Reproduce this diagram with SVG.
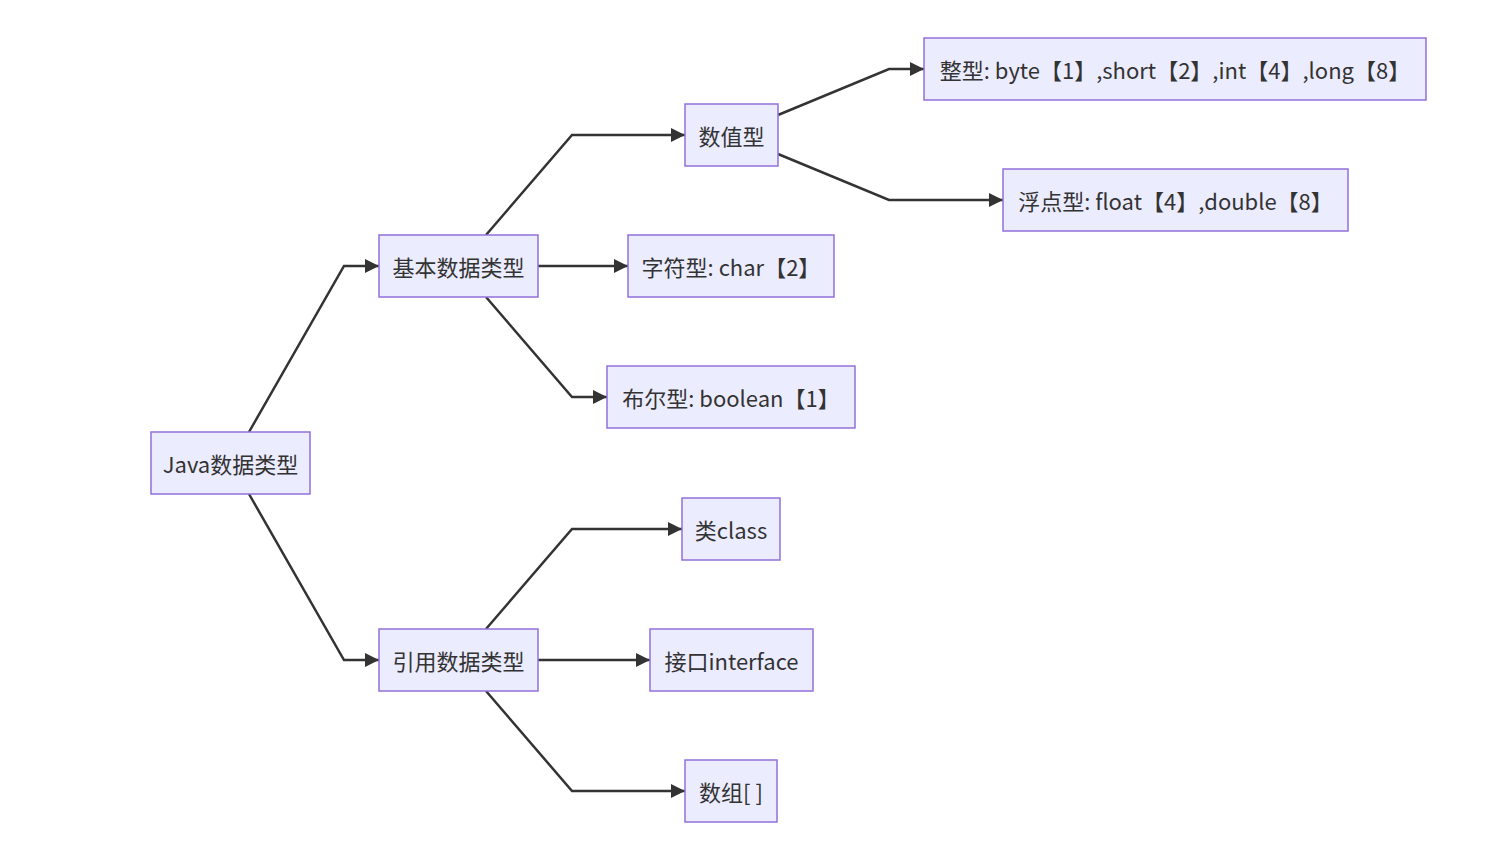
<svg xmlns="http://www.w3.org/2000/svg" width="1511" height="868" viewBox="0 0 1511 868">
<style>
.node rect{fill:#ECECFF;stroke:#9370DB;stroke-width:1.5}
.node text{font-family:"Noto Sans CJK SC","Noto Sans",sans-serif;font-size:22px;fill:#333;text-anchor:middle;dominant-baseline:central}
.edge{fill:none;stroke:#333;stroke-width:2.5;marker-end:url(#arrow)}
</style>
<defs>
<marker id="arrow" viewBox="0 0 10 10" refX="10" refY="5" markerWidth="14" markerHeight="14" markerUnits="userSpaceOnUse" orient="auto">
<path d="M0 0 L10 5 L0 10 z" fill="#333"/>
</marker>
</defs>
<rect width="1511" height="868" fill="#fff"/>
<g id="edges">
<polyline class="edge" points="249,432 344,266 379,266"/>
<polyline class="edge" points="249,494 344,660 379,660"/>
<polyline class="edge" points="486,235 572,135 685,135"/>
<polyline class="edge" points="538,266 628,266"/>
<polyline class="edge" points="486,297 572,397 607,397"/>
<polyline class="edge" points="778,115 889,69 924,69"/>
<polyline class="edge" points="778,154 889,200 1003,200"/>
<polyline class="edge" points="486,629 572,529 682,529"/>
<polyline class="edge" points="538,660 650,660"/>
<polyline class="edge" points="486,691 572,791 685,791"/>
</g>
<g id="java" class="node"><rect x="151" y="432" width="159" height="62"/><text x="230.5" y="463">Java数据类型</text></g>
<g id="basic" class="node"><rect x="379" y="235" width="159" height="62"/><text x="458.5" y="266">基本数据类型</text></g>
<g id="ref" class="node"><rect x="379" y="629" width="159" height="62"/><text x="458.5" y="660">引用数据类型</text></g>
<g id="numeric" class="node"><rect x="685" y="104" width="93" height="62"/><text x="731.5" y="135">数值型</text></g>
<g id="char" class="node"><rect x="628" y="235" width="206" height="62"/><text x="731" y="266">字符型: char【2】</text></g>
<g id="bool" class="node"><rect x="607" y="366" width="248" height="62"/><text x="731" y="397">布尔型: boolean【1】</text></g>
<g id="class" class="node"><rect x="682" y="498" width="98" height="62"/><text x="731" y="529">类class</text></g>
<g id="iface" class="node"><rect x="650" y="629" width="163" height="62"/><text x="731.5" y="660">接口interface</text></g>
<g id="array" class="node"><rect x="685" y="760" width="92" height="62"/><text x="731" y="791">数组[ ]</text></g>
<g id="int" class="node"><rect x="924" y="38" width="502" height="62"/><text x="1175" y="69">整型: byte【1】,short【2】,int【4】,long【8】</text></g>
<g id="float" class="node"><rect x="1003" y="169" width="345" height="62"/><text x="1175.5" y="200">浮点型: float【4】,double【8】</text></g>
</svg>
